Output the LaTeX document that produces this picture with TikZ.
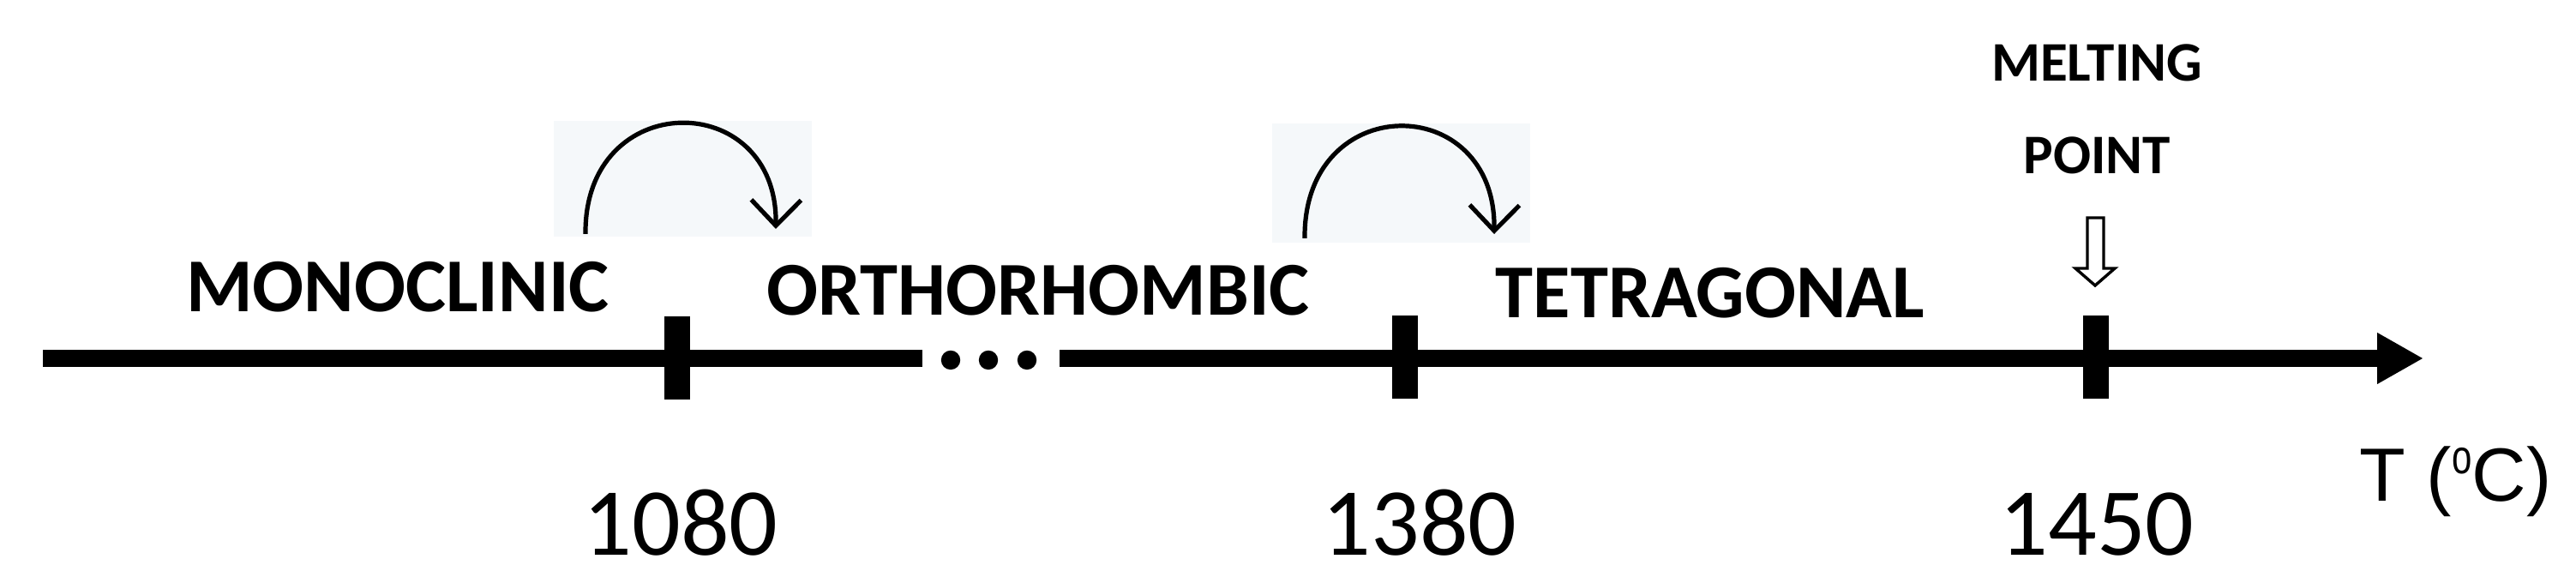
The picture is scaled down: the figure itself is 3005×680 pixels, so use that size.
\documentclass[tikz,border=0pt]{standalone}
\usepackage{graphicx}
\usepackage{fontspec}
\setmainfont{Carlito}
\newfontfamily\arialf{Liberation Sans}
\usetikzlibrary{arrows.meta}
\definecolor{bgbox}{RGB}{245,248,250}
\tikzset{
  phase/.style={font=\fontsize{22.2}{24}\selectfont\bfseries, inner sep=0pt, anchor=base},
  mp/.style={font=\fontsize{16.3}{18}\selectfont\bfseries, inner sep=0pt, anchor=base},
  temp/.style={font=\fontsize{28}{30}\selectfont, inner sep=0pt, anchor=base},
  tickmark/.style={fill=black, inner sep=0pt, minimum width=7.5pt, minimum height=24.25pt},
  dotmark/.style={fill=black, circle, inner sep=0pt, minimum size=5.6pt},
  axisline/.style={line width=5pt},
  trans/.style={line width=1.3pt, -{Straight Barb[length=7.5pt,width=14.5pt,line width=1.3pt]}},
  hollow/.style={line width=0.85pt, fill=white, draw=black, line join=miter},
}
\begin{document}
\begin{tikzpicture}[x=0.25pt,y=-0.25pt]
\useasboundingbox (0,0) rectangle (3005,680);
% light background boxes behind the transition arrows
\fill[bgbox] (646,141) rectangle (947,276);
\fill[bgbox] (1484,144) rectangle (1785,283);
% axis
\coordinate (a0) at (50,418);
\coordinate (g1) at (1076,418);
\coordinate (g2) at (1236,418);
\coordinate (aend) at (2827,418);
\draw[axisline] (a0) -- (g1);
\draw[axisline, -{Triangle[length=13.5pt,width=14pt]}] (g2) -- (aend);
\node[dotmark] (d1) at (1109,420) {};
\node[dotmark] (d2) at (1153,420) {};
\node[dotmark] (d3) at (1198,420) {};
% ticks
\node[tickmark] (t1) at (790,418) {};
\node[tickmark] (t2) at (1639,417) {};
\node[tickmark] (t3) at (2445,417) {};
% phase labels
\node[phase] (mono) at (464,364) {MONOCLINIC};
\node[phase] (ortho) at (1211,368) {ORTHORHOMBIC};
\node[phase] (tetra) at (1995,371) {TETRAGONAL};
% melting point
\node[mp] (melt) at (2446,95) {MELTING};
\node[mp] (point) at (2446,203) {POINT};
\draw[hollow] (2435,254) -- (2454,254) -- (2454,313) -- (2467,313) -- (2444,333) -- (2421,313) -- (2435,313) -- cycle;
% transition arrows
\coordinate (s1) at (683,273);
\coordinate (e1) at (905,267);
\draw[trans] (s1) .. controls (681,102) and (907,102) .. (e1);
\coordinate (s2) at (1522,278);
\coordinate (e2) at (1743,273);
\draw[trans] (s2) .. controls (1520,105) and (1745,105) .. (e2);
% temperatures
\node[temp] (n1) at (794,648) {1080};
\node[temp] (n2) at (1656,648) {1380};
\node[temp] (n3) at (2446,648) {1450};
\node[font=\arialf\fontsize{22}{24}\selectfont, anchor=base west, inner sep=0pt] (tl) at (2752,585) {T (\raisebox{8.2pt}{\fontsize{14}{14}\selectfont\scalebox{0.75}[1]{o}}C)};
\end{tikzpicture}
\end{document}
